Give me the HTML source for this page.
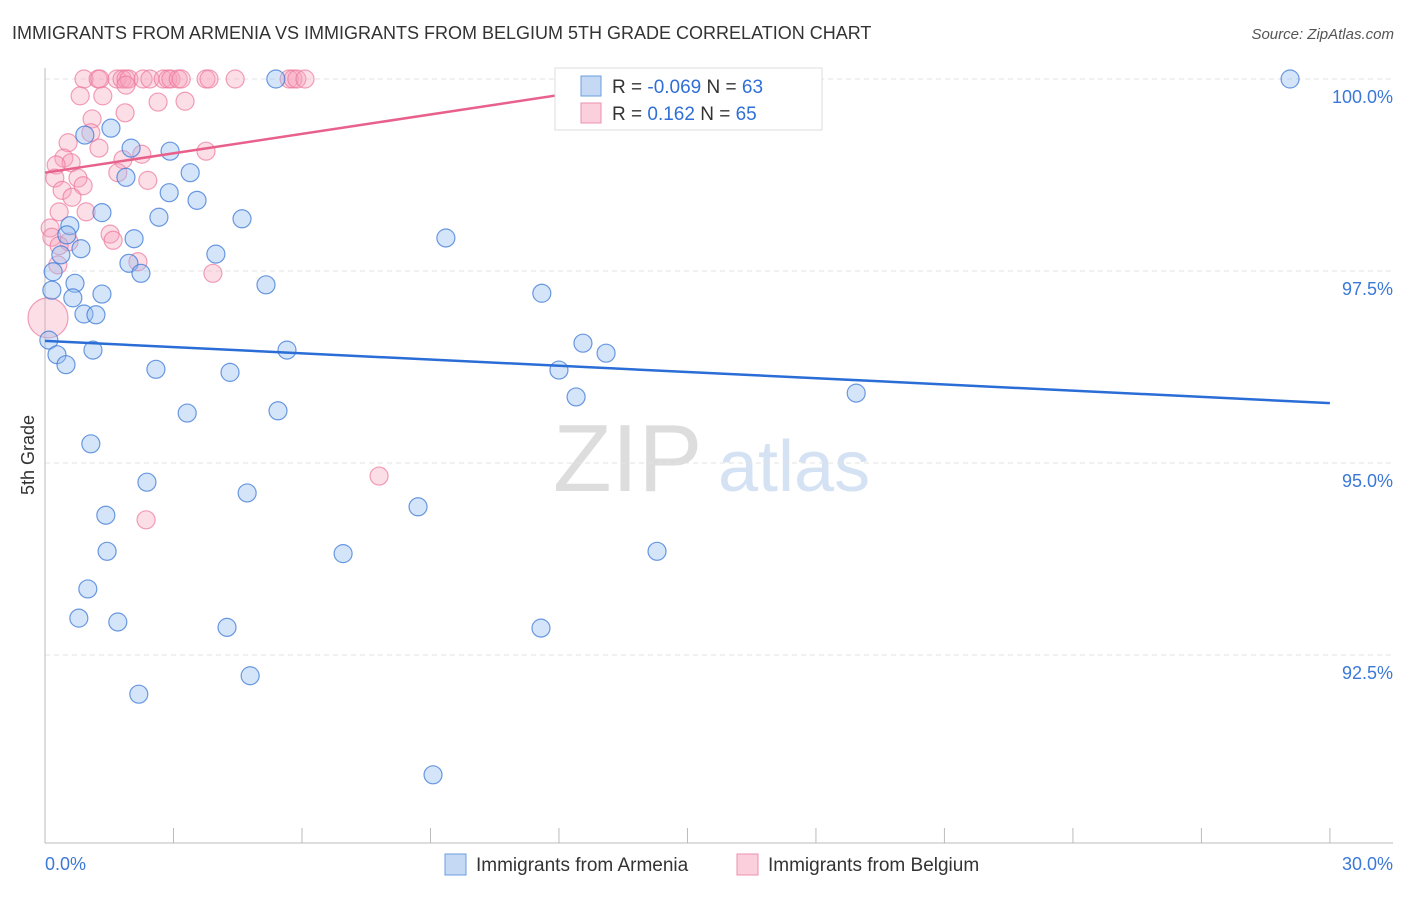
<!DOCTYPE html>
<html><head><meta charset="utf-8"><style>
body{margin:0;background:#fff;font-family:"Liberation Sans",sans-serif}
svg text{font-family:"Liberation Sans",sans-serif}
</style></head><body>
<svg id="c" width="1406" height="892" xmlns="http://www.w3.org/2000/svg">
<text x="12" y="39" font-size="18" fill="#333">IMMIGRANTS FROM ARMENIA VS IMMIGRANTS FROM BELGIUM 5TH GRADE CORRELATION CHART</text>
<text x="1394" y="39" font-size="15" fill="#555" text-anchor="end" font-style="italic">Source: ZipAtlas.com</text>
<text x="34" y="455" font-size="18" fill="#333" text-anchor="middle" transform="rotate(-90 34 455)">5th Grade</text>
<g><text x="553" y="491" font-size="96" fill="#ddd" font-family="Liberation Serif">ZIP</text><text x="718" y="491" font-size="72" fill="#d4e2f4">atlas</text></g>
<g id="grid"></g><g id="pts"></g><g id="trend"></g>
<g>
<rect x="555" y="68" width="267" height="62" fill="#fff" stroke="#ddd"/>
<rect x="581" y="76" width="20" height="20" fill="#c5d9f5" stroke="#6a9de0"/>
<rect x="581" y="103" width="20" height="20" fill="#fbd0dc" stroke="#ee8fae"/>
<text x="612" y="93" font-size="19" fill="#333">R = <tspan fill="#2f6fd6">-0.069</tspan>   N = <tspan fill="#2f6fd6">63</tspan></text>
<text x="612" y="120" font-size="19" fill="#333">R =   <tspan fill="#2f6fd6">0.162</tspan>   N = <tspan fill="#2f6fd6">65</tspan></text>
</g>
<g>
<rect x="445" y="854" width="21" height="21" fill="#c5d9f5" stroke="#6a9de0"/>
<text x="476" y="871" font-size="19" fill="#333">Immigrants from Armenia</text>
<rect x="737" y="854" width="21" height="21" fill="#fbd0dc" stroke="#ee8fae"/>
<text x="768" y="871" font-size="19" fill="#333">Immigrants from Belgium</text>
</g>
</svg>
<script>
const blueX=[29.07,5.39,1.54,0.93,2.01,2.92,1.89,3.39,2.90,3.55,1.33,2.66,4.60,0.58,0.51,2.08,9.36,0.84,0.37,3.99,1.96,2.24,0.19,0.70,5.16,0.16,11.60,1.33,0.65,0.91,1.19,0.09,12.56,1.12,5.65,13.10,0.28,0.49,2.59,4.32,12.00,12.40,18.94,3.32,5.44,1.07,2.38,4.72,8.71,1.42,1.45,6.96,14.29,1.00,0.79,1.70,4.25,11.58,2.19,4.79,9.06];
const blueY=[100,100,99.36,99.27,99.10,99.06,98.72,98.78,98.52,98.42,98.26,98.20,98.18,98.09,97.97,97.92,97.93,97.79,97.71,97.72,97.60,97.47,97.49,97.34,97.32,97.25,97.21,97.20,97.15,96.94,96.93,96.60,96.56,96.47,96.47,96.43,96.41,96.28,96.22,96.18,96.21,95.86,95.91,95.65,95.68,95.25,94.75,94.61,94.43,94.32,93.85,93.82,93.85,93.36,92.98,92.93,92.86,92.85,91.99,92.23,90.94];
const pinkX=[0.91,1.24,1.28,1.68,1.80,1.89,1.96,2.29,2.45,2.76,2.87,2.94,3.11,3.18,3.76,3.83,4.44,5.70,5.79,5.88,6.07,14.36,0.82,1.35,3.27,2.64,1.89,1.87,1.10,1.07,0.54,1.26,2.26,3.76,0.44,0.61,0.26,1.82,1.70,2.40,0.77,0.23,0.89,0.40,0.63,0.96,0.33,0.12,1.52,1.59,0.16,0.56,0.33,2.17,0.30,3.92,7.80,2.36,0.07];
const pinkY=[100,100,100,100,100,100,100,100,100,100,100,100,100,100,100,100,100,100,100,100,100,99.97,99.78,99.78,99.71,99.70,99.92,99.56,99.48,99.30,99.17,99.10,99.02,99.06,98.97,98.91,98.88,98.95,98.78,98.68,98.71,98.71,98.61,98.55,98.46,98.27,98.27,98.06,97.98,97.90,97.94,97.88,97.83,97.62,97.58,97.47,94.83,94.26,96.89];
const pinkR=[9,9,9,9,9,9,9,9,9,9,9,9,9,9,9,9,9,9,9,9,9,9,9,9,9,9,9,9,9,9,9,9,9,9,9,9,9,9,9,9,9,9,9,9,9,9,9,9,9,9,9,9,9,9,9,9,9,9,20];
const blueTrendX=[0,30],blueTrendY=[96.59,95.78];
const pinkTrendX=[0,14.36],pinkTrendY=[98.78,99.99];
const yTicks=[100,97.5,95,92.5],yTickLabels=["100.0%","97.5%","95.0%","92.5%"];
const xTicks=[0,3,6,9,12,15,18,21,24,27,30];
const NS="http://www.w3.org/2000/svg";
const sx=v=>45+v*42.83, sy=v=>79+(100-v)*76.8;
function mk(t,a,p){const e=document.createElementNS(NS,t);for(const k in a)e.setAttribute(k,a[k]);p.appendChild(e);return e;}
const grid=document.getElementById('grid'),pts=document.getElementById('pts'),tr=document.getElementById('trend');
yTicks.forEach((v,i)=>{
 const l=mk('line',{x1:45,x2:1393,y1:sy(v),y2:sy(v),stroke:'#e3e3e3','stroke-dasharray':'5,4'},grid);
 
 
 const t=mk('text',{x:1393,y:sy(v)+24,'font-size':18,fill:'#3b78d8','text-anchor':'end'},grid);t.textContent=yTickLabels[i];
 
 
});
const ax=mk('line',{x1:45,x2:45,y1:68,y2:843,stroke:'#bbb'},grid);


const bx=mk('line',{x1:45,x2:1393,y1:843,y2:843,stroke:'#bbb'},grid);


xTicks.forEach(v=>{const l=mk('line',{x1:sx(v),x2:sx(v),y1:828,y2:843,stroke:'#bbb'},grid);
 
 });
let t0=mk('text',{x:45,y:870,'font-size':18,fill:'#3b78d8'},grid);t0.textContent="0.0%";


let t1=mk('text',{x:1393,y:870,'font-size':18,fill:'#3b78d8','text-anchor':'end'},grid);t1.textContent="30.0%";


pinkX.forEach((x,i)=>{const c=mk('circle',{cx:sx(x),cy:sy(pinkY[i]),r:pinkR[i],fill:'rgba(246,160,185,0.35)',stroke:'rgba(236,120,155,0.7)','stroke-width':1.2},pts);
 
 });
blueX.forEach((x,i)=>{const c=mk('circle',{cx:sx(x),cy:sy(blueY[i]),r:9,fill:'rgba(150,190,240,0.4)',stroke:'rgba(60,120,215,0.75)','stroke-width':1.2},pts);
 
 });
const lb=mk('line',{x1:sx(blueTrendX[0]),y1:sy(blueTrendY[0]),x2:sx(blueTrendX[1]),y2:sy(blueTrendY[1]),stroke:'#2a6dd6','stroke-width':2.5},tr);


const lp=mk('line',{x1:sx(pinkTrendX[0]),y1:sy(pinkTrendY[0]),x2:sx(pinkTrendX[1]),y2:sy(pinkTrendY[1]),stroke:'#e8608c','stroke-width':2.5},tr);


</script>
</body></html>
